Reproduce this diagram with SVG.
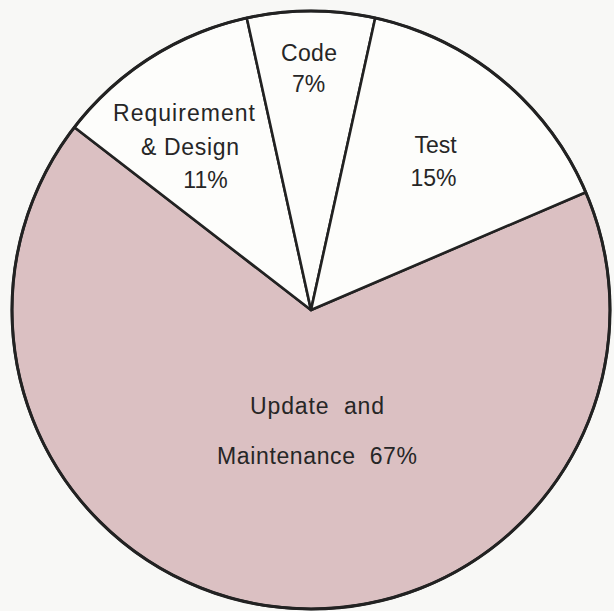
<svg xmlns="http://www.w3.org/2000/svg" width="614" height="611" viewBox="0 0 614 611">
  <style>
    .slice { stroke: #222; stroke-width: 2.6; stroke-linejoin: round; }
    .white { fill: #fdfdfb; }
    .pink { fill: #dbc0c2; }
    .lbl { font-family: "Liberation Sans", Arial, sans-serif; font-size: 23px; fill: #262626; text-anchor: middle; }
  </style>
  <rect width="614" height="611" fill="#f8f8f6"/>

  <!-- Pie centred at (311,310), r=299 -->
  <g id="update-maintenance">
    <path class="slice pink" d="M311,310 L585.8,192.2 A299,299 0 1,1 74.4,127.2 Z"/>
    <text class="lbl" x="317" y="414" textLength="134" lengthAdjust="spacing" xml:space="preserve">Update  and</text>
    <text class="lbl" x="317" y="464" textLength="200" lengthAdjust="spacing" xml:space="preserve">Maintenance  67%</text>
  </g>

  <g id="requirement-design">
    <path class="slice white" d="M311,310 L74.4,127.2 A299,299 0 0,1 246.8,18 Z"/>
    <text class="lbl" x="184" y="121" textLength="142" lengthAdjust="spacing">Requirement</text>
    <text class="lbl" x="190" y="155" textLength="98" lengthAdjust="spacing">&amp; Design</text>
    <text class="lbl" x="205.5" y="188">11%</text>
  </g>

  <g id="code">
    <path class="slice white" d="M311,310 L246.8,18 A299,299 0 0,1 375.2,18 Z"/>
    <text class="lbl" x="309" y="61" textLength="56" lengthAdjust="spacing">Code</text>
    <text class="lbl" x="308.5" y="92">7%</text>
  </g>

  <g id="test">
    <path class="slice white" d="M311,310 L375.2,18 A299,299 0 0,1 585.8,192.2 Z"/>
    <text class="lbl" x="435.5" y="153">Test</text>
    <text class="lbl" x="433.5" y="186">15%</text>
  </g>

  <!-- Outer rim drawn on top so the edge is uniform -->
  <g id="connectors">
    <circle cx="311" cy="310" r="299" fill="none" stroke="#222" stroke-width="3"/>
  </g>
</svg>
